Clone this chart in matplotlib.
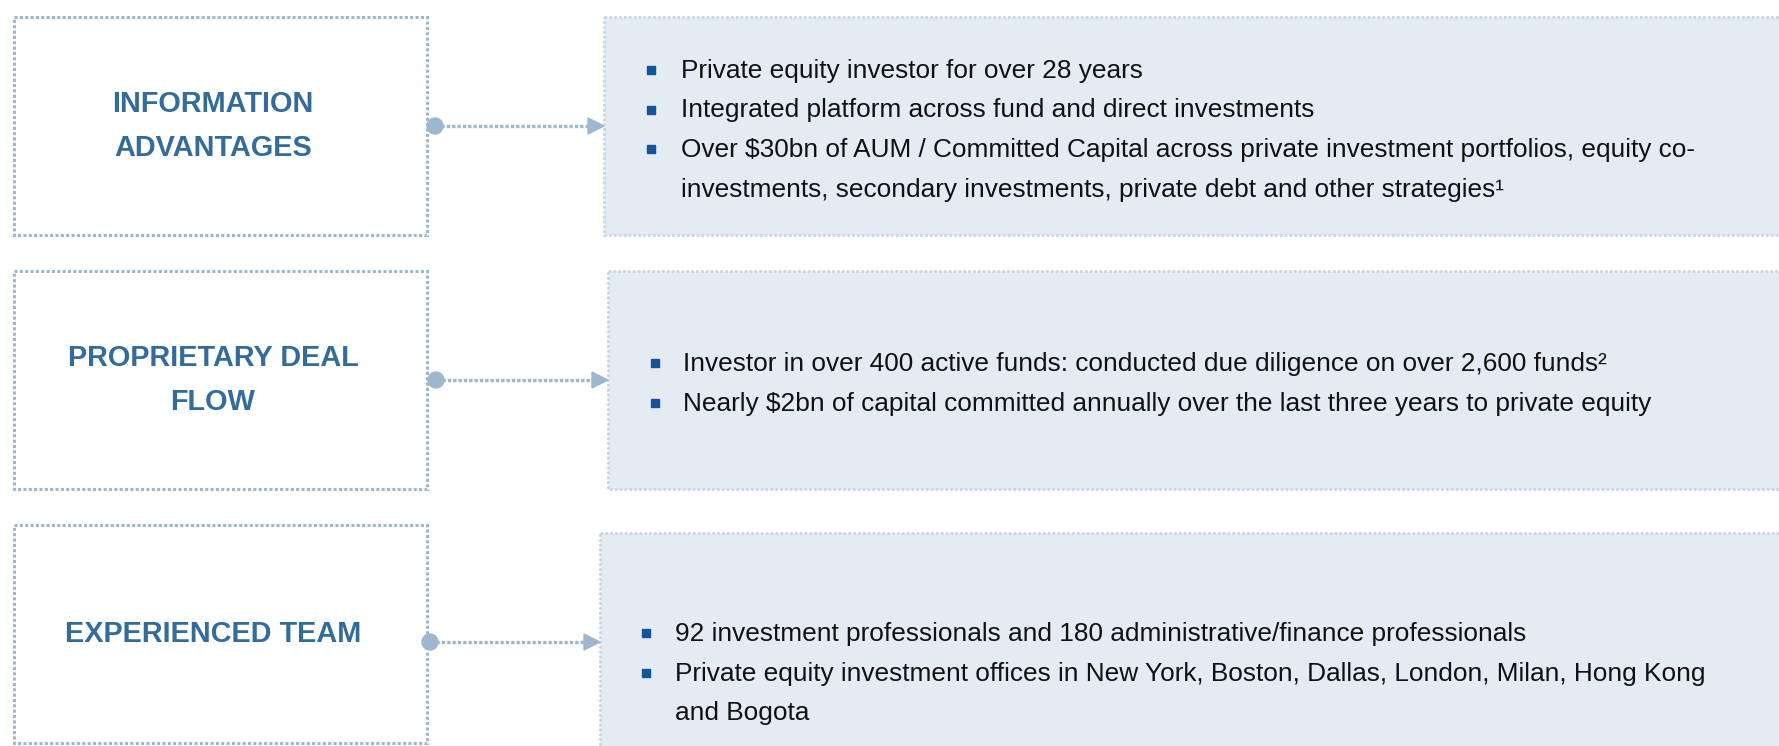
import matplotlib
matplotlib.use("Agg")
from matplotlib import pyplot as plt
from matplotlib import font_manager
from matplotlib.patches import Rectangle, Circle, Polygon

# labels on the left, one entry per printed line
titles = [["INFORMATION", "ADVANTAGES"], ["PROPRIETARY DEAL", "FLOW"], ["EXPERIENCED TEAM"]]

# bullet items per box, each item already split into its printed lines
items_info = [
    ["Private equity investor for over 28 years"],
    ["Integrated platform across fund and direct investments"],
    ["Over $30bn of AUM / Committed Capital across private investment portfolios, equity co-",
     "investments, secondary investments, private debt and other strategies\u00b9"],
]
items_deal = [
    ["Investor in over 400 active funds: conducted due diligence on over 2,600 funds\u00b2"],
    ["Nearly $2bn of capital committed annually over the last three years to private equity"],
]
items_team = [
    ["92 investment professionals and 180 administrative/finance professionals"],
    ["Private equity investment offices in New York, Boston, Dallas, London, Milan, Hong Kong",
     "and Bogota"],
]
items = [items_info, items_deal, items_team]

# pick a narrow face if there is one
names = {f.name for f in font_manager.fontManager.ttflist}
if "Liberation Sans Narrow" in names:
    face, body_fs, title_fs = "Liberation Sans Narrow", 23, 25
else:
    face, body_fs, title_fs = "Liberation Sans", 18.9, 20.8

W, H = 1779, 746
fig = plt.figure(figsize=(W / 100, H / 100), dpi=100)
ax = fig.add_axes([0, 0, 1, 1])
ax.set_xlim(0, W)
ax.set_ylim(H, 0)
ax.axis("off")

title_col = "#336b9b"
edge_col = "#9fb7cd"
fill_col = "#e4ebf2"
fill_edge = "#c9d6e3"
bullet_col = "#14559a"

# layout: left box top, right box (x, top, bottom), connector (x0, y, x1), first text line y
left_top = [17, 271, 525]
right_box = [(604, 17, 235), (608, 271, 489), (600, 533, 760)]
conn = [(435, 126, 604), (436, 380, 608), (430, 642, 600)]
text_x = [(651, 681), (655, 683), (646, 675)]
text_y0 = [71, 364, 634]
line_h = 39.5
title_gap = 43

for i in range(3):
    top = left_top[i]
    ax.add_patch(Rectangle((14, top), 413, 218, fill=False, ec=edge_col,
                           lw=2.2, ls=(0, (1, 0.75))))
    lines = titles[i]
    ty = top + 109 - title_gap * (len(lines) - 1) / 2
    for ln in lines:
        ax.text(213, ty, ln, ha="center", va="center", color=title_col,
                fontsize=title_fs, fontweight="bold", family=face)
        ty += title_gap

    rx, rt, rb = right_box[i]
    ax.add_patch(Rectangle((rx, rt), W + 20 - rx, rb - rt, fc=fill_col, ec=fill_edge,
                           lw=2.0, ls=(0, (1, 0.75))))

    x0, cy, x1 = conn[i]
    ax.plot([x0 + 6, x1 - 14], [cy, cy], color=edge_col, lw=2.4, ls=(0, (1, 0.6)),
            solid_capstyle="butt")
    ax.add_patch(Circle((x0, cy), 8, color=edge_col))
    ax.add_patch(Polygon([[x1 - 16, cy - 8], [x1 - 16, cy + 8], [x1, cy]], color=edge_col))

    bx, tx = text_x[i]
    y = text_y0[i]
    for item in items[i]:
        ax.plot(bx, y - 1, marker="s", ms=5.5, color=bullet_col, mec=bullet_col)
        for line in item:
            ax.text(tx, y, line, ha="left", va="center", color="#111111",
                    fontsize=body_fs, family=face)
            y += line_h

fig.savefig("out.png", dpi=100)
